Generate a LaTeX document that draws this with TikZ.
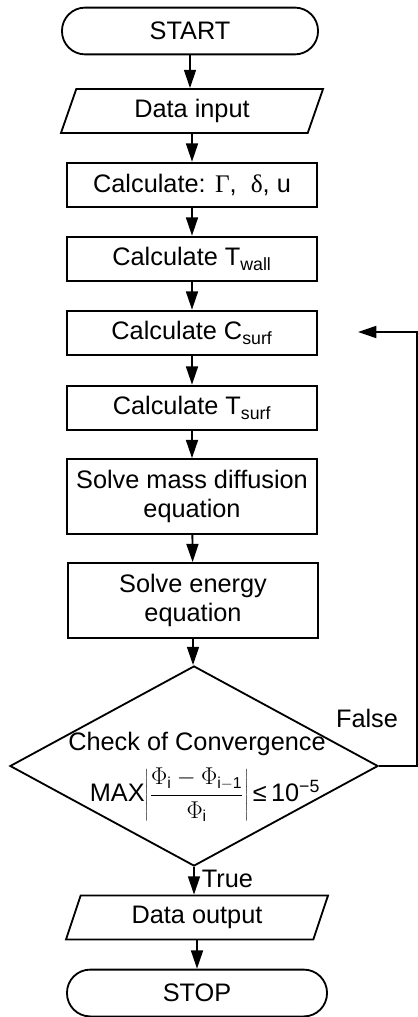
\documentclass[tikz,border=0pt]{standalone}
\usepackage{fontspec}
\setmainfont{Liberation Sans}
\newfontfamily\grkfont{Liberation Serif}
\usetikzlibrary{arrows.meta,shapes.geometric}

\tikzset{
  flow/.style={line width=1.3pt},
  arr/.style={flow,-{Triangle[length=13pt,width=8.5pt]}},
  txt/.style={font=\fontsize{18}{21}\selectfont,inner sep=0pt,align=center},
  term/.style={txt,flow,draw,rectangle,rounded corners=16.5pt,minimum height=1.17cm},
  proc/.style={txt,flow,draw,rectangle,minimum width=6.23cm,minimum height=1.12cm},
  io/.style={txt,flow,draw,trapezium,trapezium left angle=57,trapezium right angle=123,
    trapezium stretches body,minimum width=6.55cm,minimum height=1.1cm},
  decision/.style={flow,draw,diamond,inner sep=0pt,minimum width=9.2cm,minimum height=5cm}
}

\begin{document}
\begin{tikzpicture}[x=0.025cm,y=-0.025cm]
\useasboundingbox (0,0) rectangle (417,1017);

% start and input
\node[term,minimum width=6.4cm] (start) at (190,31) {START};
\node[io] (datain) at (192,111) {Data input};

% calculation steps
\node[proc] (calc) at (192,185) {Calculate: {\grkfont Γ},\ \ {\grkfont δ}, u};
\node[proc] (twall) at (192,259) {Calculate T\textsubscript{wall}};
\node[proc] (csurf) at (192,333) {Calculate C\textsubscript{surf}};
\node[proc] (tsurf) at (192,408) {Calculate T\textsubscript{surf}};
\node[proc,minimum height=1.87cm] (mass) at (192,496.5) {Solve mass diffusion\\equation};
\node[proc,minimum height=1.87cm] (energy) at (193,600.5) {Solve energy\\equation};

% convergence check
\node[decision] (conv) at (194,766) {};
\node[txt] (convtitle) at (197,744) {Check of Convergence};
\node[txt] (convtest) at (205,795)
  {MAX{\fontsize{16}{19}\selectfont$\displaystyle\left|\frac{\Phi_{\mathrm{i}}-\Phi_{\mathrm{i-1}}}{\Phi_{\mathrm{i}}}\right|$}\,≤\,10\textsuperscript{−5}};

% output and stop
\node[io] (dataout) at (197,917.5) {Data output};
\node[term,minimum width=6.5cm] (stop) at (197,993) {STOP};

% main chain
\draw[arr] (start) -- (start |- datain.north);
\draw[arr] (datain.south) -- (datain.south |- calc.north);
\draw[arr] (calc) -- (twall);
\draw[arr] (twall) -- (csurf);
\draw[arr] (csurf) -- (tsurf);
\draw[arr] (tsurf) -- (mass);
\draw[arr] (mass) -- (energy);
\draw[arr] (energy.south) -- (energy.south |- conv.north);
\draw[arr] (conv.south) -- (conv.south |- dataout.north)
  node[txt,pos=0.45,right=5pt] (truelbl) {True};
\draw[arr] (dataout.south) -- (dataout.south |- stop.north);

% loop back when not converged
\coordinate (back) at (358,332);
\draw[arr] (conv.east) -- ++(38,0) |- (back);
\node[txt] (falselbl) at (367,718) {False};

\end{tikzpicture}
\end{document}
